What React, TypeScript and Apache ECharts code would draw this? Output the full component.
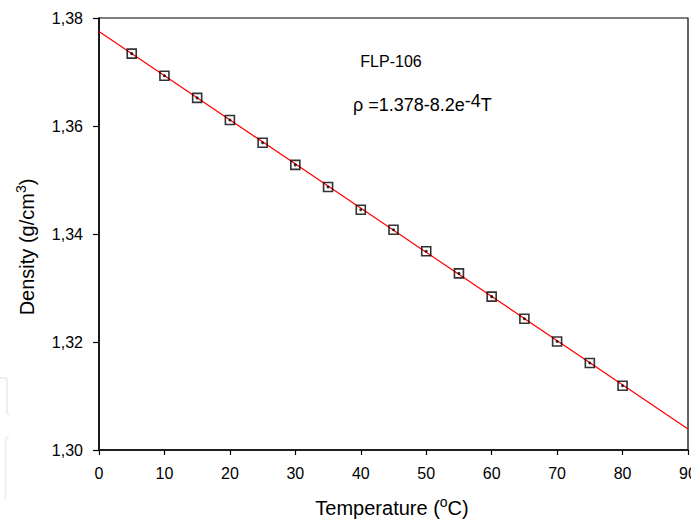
import React, { useEffect, useRef } from "react";
import * as echarts from "echarts";

const temperatures = [5, 10, 15, 20, 25, 30, 35, 40, 45, 50, 55, 60, 65, 70, 75, 80];
const densities = [
  1.3734, 1.3693, 1.3652, 1.3611, 1.3569, 1.3528, 1.3487, 1.3445,
  1.3408, 1.3368, 1.3327, 1.3284, 1.3243, 1.3201, 1.3161, 1.3119,
];
const fitTemps = [0, 90];
const fitDensities = [1.3775, 1.3039];
const xTicks = { min: 0, max: 90, interval: 10 };
const yTicks = { min: 1.3, max: 1.38, interval: 0.02 };
const sampleLabel = "FLP-106";
const xTitle = ["Temperature (", "o", "C)"];
const yTitle = ["Density (g/cm", "3", ")"];

const FONT = 'Arial, "Liberation Sans", sans-serif';

export default function App() {
  const ref = useRef<HTMLDivElement>(null);
  useEffect(() => {
    if (!ref.current) return;
    const chart = echarts.init(ref.current, undefined, { renderer: "svg" });
    const points = temperatures.map((t, i) => [t, densities[i]]);
    const fit = fitTemps.map((t, i) => [t, fitDensities[i]]);
    chart.setOption({
      animation: false,
      backgroundColor: "#ffffff",
      grid: {
        left: 99,
        right: 3,
        top: 18,
        bottom: 71,
        containLabel: false,
        outerBoundsMode: "none",
        show: true,
        borderColor: "#000",
        borderWidth: 1.2,
        backgroundColor: "transparent",
      },
      xAxis: {
        type: "value",
        min: xTicks.min,
        max: xTicks.max,
        interval: xTicks.interval,
        axisLine: { show: true, onZero: false, lineStyle: { color: "#000", width: 1.5 } },
        axisTick: { show: true, length: 5, lineStyle: { color: "#000", width: 1.2 } },
        axisLabel: { color: "#000", fontSize: 16, fontFamily: FONT, margin: 15, hideOverlap: false },
        splitLine: { show: false },
      },
      yAxis: {
        type: "value",
        min: yTicks.min,
        max: yTicks.max,
        interval: yTicks.interval,
        axisLine: { show: true, onZero: false, lineStyle: { color: "#000", width: 1.5 } },
        axisTick: { show: true, length: 6, lineStyle: { color: "#000", width: 1.2 } },
        axisLabel: {
          color: "#000",
          fontSize: 16,
          fontFamily: FONT,
          margin: 16,
          formatter: (v: number) => v.toFixed(2).replace(".", ","),
        },
        splitLine: { show: false },
      },
      series: [
        {
          type: "line",
          data: fit,
          showSymbol: false,
          symbol: "none",
          lineStyle: { color: "#ff0000", width: 1.2 },
          z: 2,
        },
        {
          type: "scatter",
          data: points,
          symbol: "rect",
          symbolSize: 9,
          itemStyle: { color: "transparent", borderColor: "#000", borderWidth: 1.6 },
          z: 3,
        },
        {
          type: "scatter",
          data: points,
          symbol: "circle",
          symbolSize: 3,
          itemStyle: { color: "#000" },
          z: 4,
        },
      ],
      graphic: [
        {
          type: "text",
          x: 391,
          y: 61,
          style: {
            text: sampleLabel,
            fontSize: 16,
            fontFamily: FONT,
            fill: "#000",
            align: "center",
            verticalAlign: "middle",
          },
        },
        {
          type: "text",
          x: 353,
          y: 105,
          style: {
            text: "{a|ρ =1.378-8.2e}{s|-4}{a|T}",
            fontFamily: FONT,
            fill: "#000",
            align: "left",
            verticalAlign: "middle",
            rich: {
              a: { fontSize: 18, lineHeight: 20, fontFamily: FONT, fill: "#000" },
              s: { fontSize: 18, lineHeight: 20, padding: [0, 0, 8, 0], fontFamily: FONT, fill: "#000" },
            },
          },
        },
        {
          type: "text",
          x: 392,
          y: 508,
          style: {
            text: `{a|${xTitle[0]}}{s|${xTitle[1]}}{a|${xTitle[2]}}`,
            fontFamily: FONT,
            fill: "#000",
            align: "center",
            verticalAlign: "middle",
            rich: {
              a: { fontSize: 20, lineHeight: 22, fontFamily: FONT, fill: "#000" },
              s: { fontSize: 14, lineHeight: 14, padding: [0, 0, 12, 0], fontFamily: FONT, fill: "#000" },
            },
          },
        },
        {
          type: "text",
          x: 27,
          y: 247,
          rotation: Math.PI / 2,
          style: {
            text: `{a|${yTitle[0]}}{s|${yTitle[1]}}{a|${yTitle[2]}}`,
            fontFamily: FONT,
            fill: "#000",
            align: "center",
            verticalAlign: "middle",
            rich: {
              a: { fontSize: 20, lineHeight: 22, fontFamily: FONT, fill: "#000" },
              s: { fontSize: 14, lineHeight: 14, padding: [0, 0, 12, 0], fontFamily: FONT, fill: "#000" },
            },
          },
        },
        {
          type: "polyline",
          shape: { points: [[0, 378], [6, 378], [7, 380], [7, 413], [9, 415]] },
          style: { stroke: "#efefef", lineWidth: 2, fill: "none" },
          silent: true,
        },
        {
          type: "polyline",
          shape: { points: [[9, 437], [6, 438], [5.5, 440], [5.5, 500]] },
          style: { stroke: "#efefef", lineWidth: 2, fill: "none" },
          silent: true,
        },
      ],
    });
    return () => chart.dispose();
  }, []);
  return (
    <div
      ref={ref}
      style={{ position: "fixed", left: 0, top: 0, width: 691, height: 521 }}
    />
  );
}
